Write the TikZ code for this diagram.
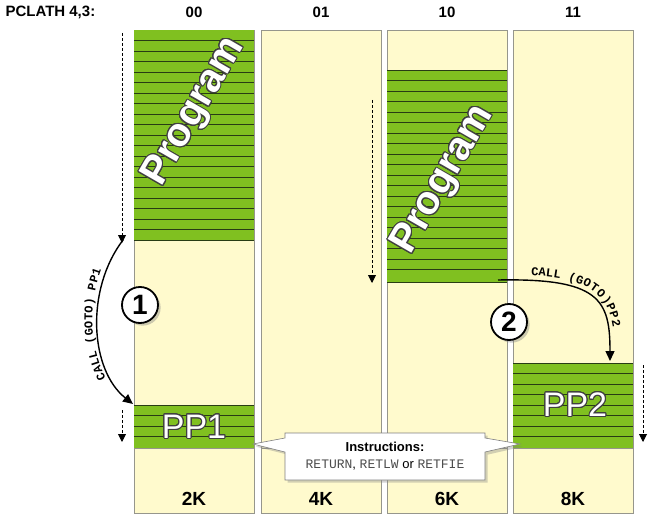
\documentclass[tikz,border=0pt]{standalone}
\usepackage{fontspec}
\setmainfont{Liberation Sans}
\setmonofont{Liberation Mono}
\usepackage{contour}
\contourlength{1pt}
\contournumber{24}
\usetikzlibrary{arrows.meta,decorations.text,shadows}
\definecolor{paper}{RGB}{255,250,205}
\definecolor{grn}{RGB}{128,192,32}
\definecolor{edge}{RGB}{150,150,140}
\definecolor{strk}{RGB}{40,60,20}
\tikzset{
 col/.style={draw=edge,line width=0.8pt,fill=paper},
 gblock/.style={fill=grn},
 stripe/.style={draw=strk,line width=0.6pt},
 dasharrow/.style={densely dashed,line width=0.9pt,-{Triangle[length=8pt,width=8pt]}},
 callarrow/.style={line width=1.4pt,-{Triangle[length=10pt,width=9pt]}},
 numc/.style={circle,draw=black,line width=1.8pt,fill=white,minimum size=36pt,inner sep=0pt,font=\fontsize{28}{28}\selectfont\bfseries,drop shadow={opacity=0.4}},
 hdr/.style={font=\fontsize{15}{16}\selectfont\bfseries},
 size/.style={font=\fontsize{19}{19}\selectfont\bfseries},
 big/.style={text=white,font=\fontsize{34}{34}\selectfont},
}
\newcommand{\outl}[1]{\contour{black!75}{#1}}
\begin{document}
\begin{tikzpicture}[x=1pt,y=-1pt]
\useasboundingbox (0,0) rectangle (650,516);
\foreach \x in {134,261,387,513}{
  \draw[col] (\x,30) rectangle ++(120,483);
  \draw[col] (\x,448) -- ++(120,0);
}
\fill[gblock] (134,30) rectangle (254,240);
\foreach \y in {40.5,51,...,235}{\draw[stripe] (134,\y) -- (254,\y);}
\draw[stripe] (134,240) -- (254,240);
\fill[gblock] (134,405) rectangle (254,448);
\foreach \y in {405,415.5,426,436.5}{\draw[stripe] (134,\y) -- (254,\y);}
\fill[gblock] (387,70) rectangle (507,282);
\foreach \y in {70,80.5,91,...,278}{\draw[stripe] (387,\y) -- (507,\y);}
\draw[stripe] (387,282) -- (507,282);
\fill[gblock] (513,363) rectangle (633,448);
\foreach \y in {363,373.5,384,...,444}{\draw[stripe] (513,\y) -- (633,\y);}
% header
\node[hdr,anchor=west] (ph) at (2,12) {PCLATH 4,3:};
\node[hdr] (h0) at (194,12) {00};
\node[hdr] (h1) at (321,12) {01};
\node[hdr] (h2) at (447,12) {10};
\node[hdr] (h3) at (573,12) {11};
% big labels
\node[big,rotate=60,font=\fontsize{40}{40}\selectfont\bfseries] (prog1) at (195,112) {\outl{Program}};
\node[big,rotate=60,font=\fontsize{40}{40}\selectfont\bfseries] (prog2) at (444,180) {\outl{Program}};
\node[big] (pp1) at (194,427) {\outl{PP1}};
\node[big] (pp2) at (575,405) {\outl{PP2}};
% dashed arrows
\coordinate (d1a) at (122,33); \coordinate (d1b) at (122,243);
\coordinate (d2a) at (122,410); \coordinate (d2b) at (122,442);
\coordinate (d3a) at (372,100); \coordinate (d3b) at (372,283);
\coordinate (d4a) at (643,365); \coordinate (d4b) at (643,442);
\draw[dasharrow] (d1a) -- (d1b);
\draw[dasharrow] (d2a) -- (d2b);
\draw[dasharrow] (d3a) -- (d3b);
\draw[dasharrow] (d4a) -- (d4b);
% call arrows
\coordinate (c1a) at (123,240); \coordinate (c1b) at (133,404);
\draw[callarrow] (c1a) .. controls (85,290) and (90,370) .. (c1b);
\path[decorate,decoration={text along path,text align=center,raise=5pt,
  text={|\ttfamily\bfseries\fontsize{12}{12}\selectfont|CALL (GOTO) PP1}}]
  (c1b) .. controls (90,370) and (85,290) .. (c1a);
\coordinate (c2a) at (498,280); \coordinate (c2b) at (610,361);
\draw[callarrow] (c2a) .. controls (600,278) and (610,300) .. (c2b);
\path[decorate,decoration={text along path,text align=center,raise=5pt,
  text={|\ttfamily\bfseries\fontsize{12}{12}\selectfont|CALL (GOTO)PP2}}]
  (c2a) .. controls (600,278) and (610,300) .. (c2b);
\node[numc] (n1) at (140,305) {1};
\node[numc] (n2) at (509,322) {2};
% callout
\fill[white,drop shadow={opacity=0.35}] (285,433) -- (485,433) -- (485,438) -- (520,444) -- (485,452) -- (485,480) -- (285,480) -- (285,452) -- (253,444) -- (285,438) -- cycle;
\draw[black!50,line width=0.6pt] (285,433) -- (485,433) -- (485,438) -- (520,444) -- (485,452) -- (485,480) -- (285,480) -- (285,452) -- (253,444) -- (285,438) -- cycle;
\node[align=center,font=\fontsize{13}{17}\selectfont] (instr) at (385,456) {\textbf{Instructions:}\\ \textcolor{black!70}{\texttt{RETURN}}, \textcolor{black!70}{\texttt{RETLW}} or \textcolor{black!70}{\texttt{RETFIE}}};
% sizes
\node[size] (s1) at (194,499) {2K};
\node[size] (s2) at (321,499) {4K};
\node[size] (s3) at (447,499) {6K};
\node[size] (s4) at (573,499) {8K};
\end{tikzpicture}
\end{document}
